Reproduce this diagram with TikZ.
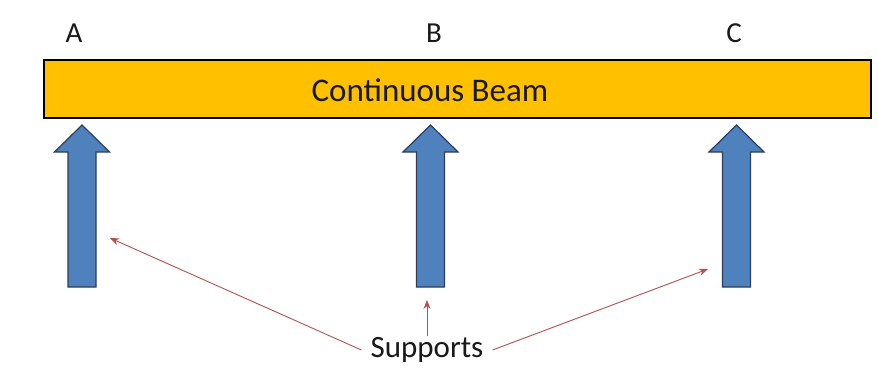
\documentclass[tikz,border=0pt]{standalone}
\usepackage{fontspec}
\setmainfont{Carlito}
\usetikzlibrary{arrows.meta}
\definecolor{beamorange}{HTML}{FFC000}
\definecolor{supblue}{HTML}{4F81BD}
\definecolor{supedge}{HTML}{2C3E5C}
\definecolor{pointred}{HTML}{B5504D}
\tikzset{
  beambox/.style={draw=black, line width=2.6pt, fill=beamorange, minimum width=827pt, minimum height=58pt, inner sep=0pt},
  lettertext/.style={font=\fontsize{29}{32}\selectfont, text=black!90, inner sep=0pt},
  beamtext/.style={font=\fontsize{33}{36}\selectfont, text=black!90, inner sep=0pt},
  suptext/.style={font=\fontsize{31}{34}\selectfont, text=black!90, inner xsep=9pt, inner ysep=1pt},
  blockstyle/.style={fill=supblue, draw=supedge, line width=1.2pt, line join=miter},
  pointer/.style={draw=pointred, line width=0.9pt, -{Stealth[length=9pt,width=7pt]}},
  blockarrow/.pic={
    \draw[blockstyle] (-14,0) -- (-14,135) -- (-27.5,135) -- (0,162) -- (27.5,135) -- (14,135) -- (14,0) -- cycle;
    \coordinate (-tip) at (0,162);
    \coordinate (-base) at (0,0);
  }
}
\begin{document}
\begin{tikzpicture}[x=1pt,y=1pt]
\useasboundingbox (0,0) rectangle (878,381);
\fill[white] (0,0) rectangle (878,381);
% beam
\node[beambox] (beam) at (457.5,292) {};
\node[beamtext] (beamlabel) at (430,291) {Continuous Beam};
% letters
\node[lettertext] (labA) at (74,348) {A};
\node[lettertext] (labB) at (434,348) {B};
\node[lettertext] (labC) at (734,348) {C};
% supports
\pic (supA) at (82,94) {blockarrow};
\pic (supB) at (430.5,94) {blockarrow};
\pic (supC) at (736.5,94) {blockarrow};
% pointers
\node[suptext] (sup) at (427,31) {Supports};
\coordinate (ptA) at (110,143);
\coordinate (ptB) at (427,81);
\coordinate (ptC) at (708,112);
\draw[pointer] (sup.west) -- (ptA);
\draw[pointer] (sup.north) -- (ptB);
\draw[pointer] (sup.east) -- (ptC);
\end{tikzpicture}
\end{document}
